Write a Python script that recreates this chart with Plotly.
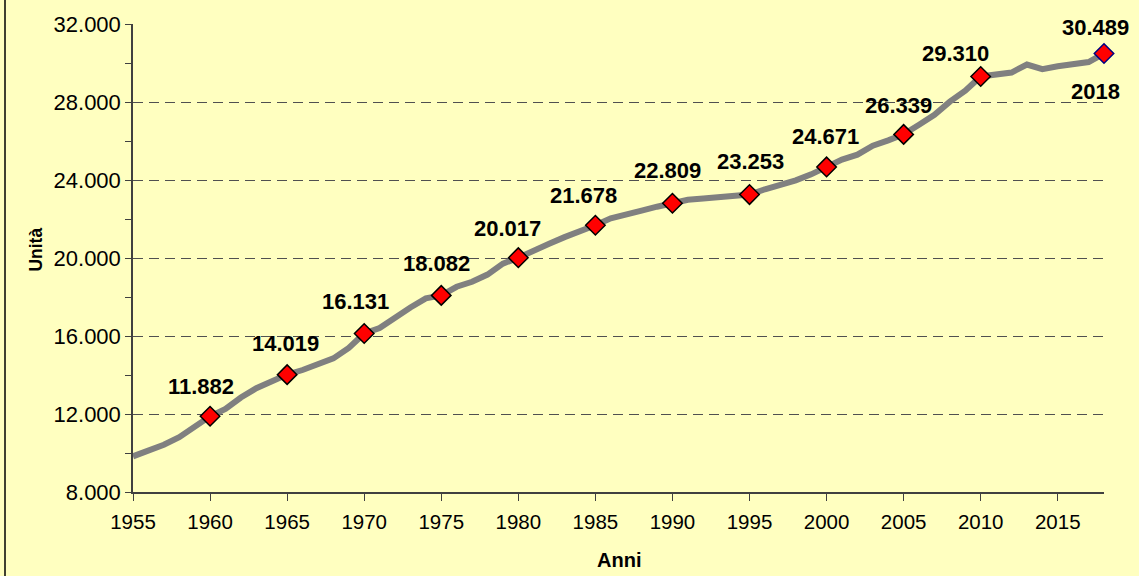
import plotly.graph_objects as go

years = list(range(1955, 2019))
units = [
    9830, 10100, 10425, 10810, 11320, 11882, 12256, 12845, 13320, 13695,
    14019, 14255, 14540, 14850, 15390, 16131, 16406, 16950, 17460, 17930,
    18082, 18525, 18780, 19150, 19710, 20017, 20340, 20730, 21070, 21360,
    21678, 22035, 22200, 22425, 22630, 22809, 22985, 23050, 23100, 23140,
    23253, 23525, 23750, 23985, 24290, 24671, 25050, 25300, 25760, 26035,
    26339, 26830, 27340, 28020, 28580, 29310, 29420, 29510, 29920, 29680,
    29830, 29970, 30050, 30489,
]
labeled_years = [1960, 1965, 1970, 1975, 1980, 1985, 1990, 1995, 2000, 2005, 2010, 2018]
label_xshift = [-9, -2, -9, -5, -11, -12, -5, 1, -1, -5, -25, -9]
label_yshift = [30, 31, 32, 32, 29, 30, 33, 33, 30, 29, 23, 26]

y_ticks = [8000, 12000, 16000, 20000, 24000, 28000, 32000]
x_ticks = list(range(1955, 2019, 5))
x_title = "Anni"
y_title = "Unità"

FONT = "Arial, Liberation Sans, sans-serif"
BG = "#FFFFC0"

lab_vals = [units[years.index(y)] for y in labeled_years]

fig = go.Figure()
fig.add_trace(go.Scatter(
    x=years, y=units, mode="lines",
    line=dict(color="#808080", width=6),
    hoverinfo="skip", showlegend=False,
))
fig.add_trace(go.Scatter(
    x=labeled_years, y=lab_vals, mode="markers",
    marker=dict(symbol="diamond", size=15, color="#FF0000",
                line=dict(color=["#000000"] * (len(labeled_years) - 1) + ["#000080"], width=1.5)),
    showlegend=False, cliponaxis=False,
))

def fmt(v):
    return f"{v:,}".replace(",", ".")

annotations = []
for yr, v, dx, dy in zip(labeled_years, lab_vals, label_xshift, label_yshift):
    annotations.append(dict(
        x=yr, y=v, xref="x", yref="y", text=f"<b>{fmt(v)}</b>", showarrow=False,
        xshift=dx, yshift=dy, font=dict(family=FONT, size=22, color="#000000"),
    ))
annotations.append(dict(
    x=labeled_years[-1], y=lab_vals[-1], xref="x", yref="y",
    text=f"<b>{labeled_years[-1]}</b>", showarrow=False, xshift=-9, yshift=-38,
    font=dict(family=FONT, size=22, color="#000000"),
))
annotations.append(dict(
    x=0.5, y=0, xref="paper", yref="paper", text=f"<b>{x_title}</b>", showarrow=False,
    yshift=-68, yanchor="middle", font=dict(family=FONT, size=20, color="#000000"),
))
annotations.append(dict(
    x=0, y=0.518, xref="paper", yref="paper", text=f"<b>{y_title}</b>", showarrow=False,
    xshift=-97, textangle=-90, xanchor="center", yanchor="middle",
    font=dict(family=FONT, size=17.5, color="#000000"),
))

fig.update_layout(
    width=1139, height=576,
    margin=dict(l=133, r=35, t=19, b=84),
    paper_bgcolor=BG, plot_bgcolor=BG,
    separators=",.",
    font=dict(family=FONT, color="#000000"),
    annotations=annotations,
    shapes=[dict(type="line", xref="paper", yref="paper",
                 x0=(5 - 133) / 971, x1=(5 - 133) / 971, y0=-0.5, y1=1.5,
                 line=dict(color="#000000", width=1.5))],
    xaxis=dict(
        range=[1955, 2018], tickvals=x_ticks, ticks="outside", ticklen=7,
        tickcolor="#404040", showline=True, linecolor="#404040", linewidth=1.5,
        showgrid=False, zeroline=False, tickfont=dict(size=20.5, family=FONT),
        ticklabelstandoff=4,
    ),
    yaxis=dict(
        range=[8000, 32000], tickvals=y_ticks, tickformat=",d", ticks="outside",
        ticklen=6, tickcolor="#404040", showline=True, linecolor="#404040",
        linewidth=1.5, showgrid=True, gridcolor="#505050", gridwidth=1,
        griddash="10px,6px", zeroline=False, tickfont=dict(size=22, family=FONT),
        minor=dict(dtick=2000, tick0=8000, ticks="outside", ticklen=6,
                   tickcolor="#404040", showgrid=False),
    ),
)

fig.write_html(
    "out.html",
    config={"displayModeBar": False},
    post_script="document.body.style.margin='0';document.body.style.overflow='hidden';",
)
